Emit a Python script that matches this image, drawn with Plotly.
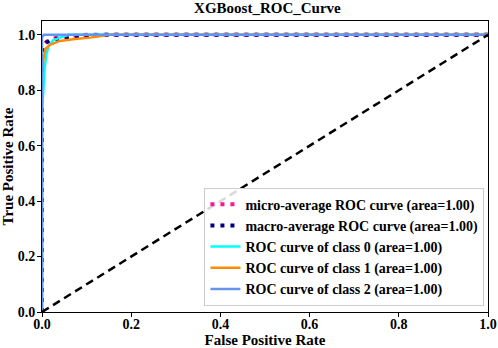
import plotly.graph_objects as go

# ---- data ----
micro_fpr = [0.0, 0.0, 0.004, 0.01, 0.02, 0.04, 0.07, 0.10, 1.0]
micro_tpr = [0.0, 0.955, 0.965, 0.975, 0.985, 0.992, 0.997, 1.0, 1.0]
macro_fpr = [0.0, 0.0, 0.004, 0.01, 0.02, 0.05, 0.09, 0.14, 1.0]
macro_tpr = [0.0, 0.94, 0.96, 0.972, 0.982, 0.99, 0.996, 1.0, 1.0]
c0_fpr = [0.0, 0.0, 0.003, 0.006, 0.01, 0.015, 0.025, 0.04, 0.06, 1.0]
c0_tpr = [0.0, 0.72, 0.80, 0.88, 0.93, 0.96, 0.98, 0.99, 1.0, 1.0]
c1_fpr = [0.0, 0.0, 0.003, 0.008, 0.018, 0.04, 0.074, 0.108, 0.15, 1.0]
c1_tpr = [0.0, 0.85, 0.91, 0.95, 0.964, 0.978, 0.985, 0.99, 1.0, 1.0]
c2_fpr = [0.0, 0.0, 0.004, 1.0]
c2_tpr = [0.0, 0.99, 1.0, 1.0]
diag = [0.0, 1.0]
tick_vals = [0.0, 0.2, 0.4, 0.6, 0.8, 1.0]
tick_text = ["0.0", "0.2", "0.4", "0.6", "0.8", "1.0"]

names = ["micro-average ROC curve (area=1.00)",
         "macro-average ROC curve (area=1.00)",
         "ROC curve of class 0 (area=1.00)",
         "ROC curve of class 1 (area=1.00)",
         "ROC curve of class 2 (area=1.00)"]

FONT = "Liberation Serif"

fig = go.Figure()
fig.add_trace(go.Scatter(x=micro_fpr, y=micro_tpr, mode="lines", name=names[0],
                         line=dict(color="deeppink", width=4, dash="4px,6px")))
fig.add_trace(go.Scatter(x=macro_fpr, y=macro_tpr, mode="lines", name=names[1],
                         line=dict(color="navy", width=4, dash="4px,6px")))
fig.add_trace(go.Scatter(x=c0_fpr, y=c0_tpr, mode="lines", name=names[2],
                         line=dict(color="aqua", width=2.5)))
fig.add_trace(go.Scatter(x=c1_fpr, y=c1_tpr, mode="lines", name=names[3],
                         line=dict(color="darkorange", width=2.5)))
fig.add_trace(go.Scatter(x=c2_fpr, y=c2_tpr, mode="lines", name=names[4],
                         line=dict(color="cornflowerblue", width=2.5)))
fig.add_trace(go.Scatter(x=diag, y=diag, mode="lines", showlegend=False,
                         line=dict(color="black", width=2.5, dash="8px,5px")))

axis_common = dict(showgrid=False, zeroline=False, showline=True, linecolor="black",
                   linewidth=1, mirror=True, ticks="outside", ticklen=4, tickcolor="black",
                   tickfont=dict(family=FONT, size=14, color="black", weight="bold"),
                   tickvals=tick_vals, ticktext=tick_text, automargin=False,
                   ticklabeloverflow="allow")

fig.update_layout(
    width=498, height=348,
    margin=dict(l=42, r=10, t=21, b=36),
    plot_bgcolor="white", paper_bgcolor="white",
    title=dict(text="<b>XGBoost_ROC_Curve</b>", x=0.537, xanchor="center", y=0.978, yanchor="middle",
               font=dict(family=FONT, size=15, color="black")),
    xaxis=dict(range=[0, 1], ticklabelstandoff=-5,
               title=dict(text="<b>False Positive Rate</b>", standoff=0,
                          font=dict(family=FONT, size=15, color="black")), **axis_common),
    yaxis=dict(range=[0, 1.05], ticklabelstandoff=-1,
               title=dict(text="<b>True Positive Rate</b>", standoff=4,
                          font=dict(family=FONT, size=15, color="black")), **axis_common),
    legend=dict(x=0.992, y=0.022, xanchor="right", yanchor="bottom",
                bgcolor="rgba(255,255,255,0.85)", bordercolor="#cccccc", borderwidth=1,
                font=dict(family=FONT, size=14, color="black", weight="bold"),
                tracegroupgap=0, itemwidth=30),
)

fig.write_html("out.html", config={"displayModeBar": False},
               post_script="document.body.style.margin='0';")
